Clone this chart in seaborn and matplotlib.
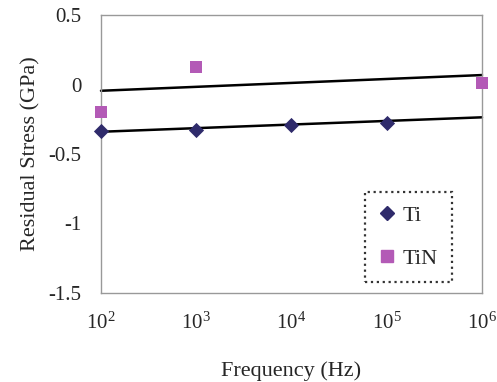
import matplotlib
matplotlib.use("Agg")
import matplotlib.pyplot as plt
import seaborn as sns
import pandas as pd
import numpy as np
from matplotlib.lines import Line2D
from matplotlib.ticker import FixedLocator, FixedFormatter, NullLocator

# ---- data ----
ti_freq = [1e2, 1e3, 1e4, 1e5]
ti_stress = [-0.335, -0.325, -0.29, -0.28]
tin_freq = [1e2, 1e3, 1e6]
tin_stress = [-0.195, 0.128, 0.013]
fit_freq = [1e2, 1e6]
ti_fit = [-0.34, -0.236]
tin_fit = [-0.045, 0.068]
x_ticks = [1e2, 1e3, 1e4, 1e5, 1e6]
x_tick_labels = ["10$^{2}$", "10$^{3}$", "10$^{4}$", "10$^{5}$", "10$^{6}$"]
y_ticks = [0.5, 0, -0.5, -1, -1.5]
y_tick_labels = ["0.5", "0", "-0.5", "-1", "-1.5"]
series_names = ["Ti", "TiN"]
colors = {"Ti": "#2F2B6B", "TiN": "#B35AB6"}
markers = {"Ti": "D", "TiN": "s"}

sns.set_style("white")
plt.rcParams["font.family"] = ["Liberation Serif", "DejaVu Serif"]
plt.rcParams["mathtext.default"] = "regular"

pts = pd.concat([
    pd.DataFrame({"freq": ti_freq, "stress": ti_stress, "series": "Ti"}),
    pd.DataFrame({"freq": tin_freq, "stress": tin_stress, "series": "TiN"}),
])
fits = pd.concat([
    pd.DataFrame({"freq": fit_freq, "stress": ti_fit, "series": "Ti"}),
    pd.DataFrame({"freq": fit_freq, "stress": tin_fit, "series": "TiN"}),
])

fig = plt.figure(figsize=(4.97, 3.82), dpi=100)
ax = fig.add_axes([0.2032, 0.233, 0.7666, 0.7277])

sns.lineplot(data=fits, x="freq", y="stress", units="series", estimator=None,
             color="black", linewidth=1.8, ax=ax, legend=False, clip_on=False)
for name in series_names:
    d = pts[pts.series == name]
    sns.scatterplot(data=d, x="freq", y="stress", color=colors[name],
                    marker=markers[name], s=85 if name == "TiN" else 60,
                    linewidth=0, ax=ax, legend=False, clip_on=False, zorder=5)

ax.set_xscale("log")
ax.set_xlim(1e2, 1e6)
ax.set_ylim(-1.5, 0.5)
ax.xaxis.set_major_locator(FixedLocator(x_ticks))
ax.xaxis.set_major_formatter(FixedFormatter(x_tick_labels))
ax.xaxis.set_minor_locator(NullLocator())
ax.set_yticks(y_ticks)
ax.set_yticklabels(y_tick_labels)
ax.tick_params(axis="both", direction="in", length=6, color="#999999",
               labelsize=15, width=1)
ax.tick_params(axis="y", pad=14)
ax.tick_params(axis="x", pad=14)
for s in ax.spines.values():
    s.set_color("#999999")
    s.set_linewidth(1)
ax.set_xlabel("Frequency (Hz)", fontsize=16, labelpad=20)
ax.set_ylabel("Residual Stress (GPa)", fontsize=16, labelpad=6)

handles = [Line2D([], [], linestyle="none", marker=markers[n], color=colors[n],
                  markersize=7 if n == "Ti" else 9) for n in series_names]
leg = ax.legend(handles, series_names, loc="lower right",
                bbox_to_anchor=(0.92, 0.04), borderaxespad=0, fontsize=16,
                frameon=True, fancybox=False, labelspacing=1.0,
                handlelength=0.8, handletextpad=0.3, borderpad=0.6)
fr = leg.get_frame()
fr.set_edgecolor("black")
fr.set_linestyle(":")
fr.set_linewidth(1.6)

fig.savefig("out.png", dpi=100)
